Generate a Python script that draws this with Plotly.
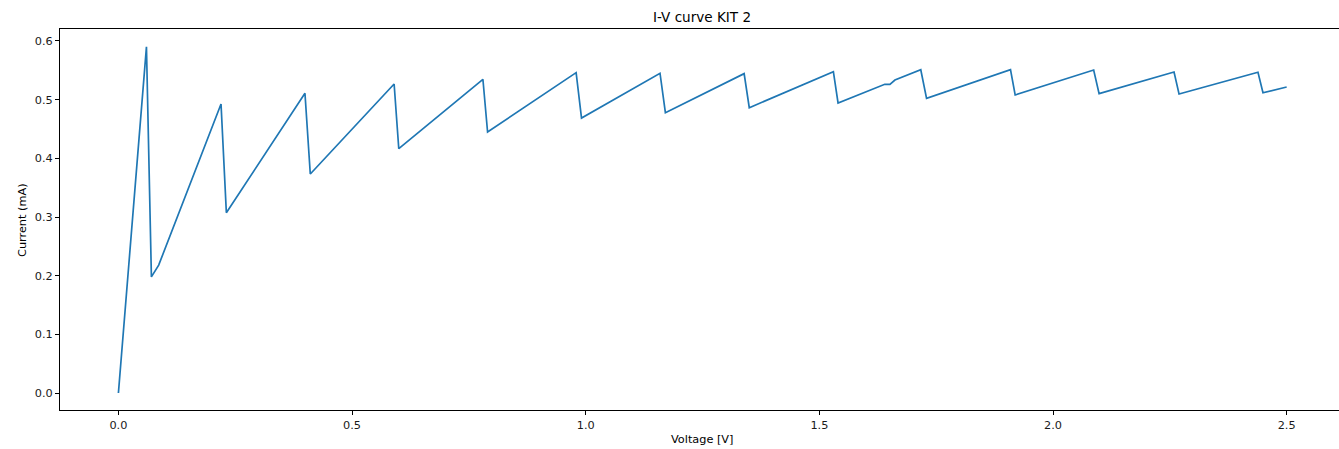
import plotly.graph_objects as go

# Vertices of the I-V curve
voltage = [0.0, 0.060, 0.0706, 0.0862, 0.2196, 0.231, 0.3992, 0.4106, 0.590, 0.600,
           0.780, 0.790, 0.9795, 0.991, 1.159, 1.1705, 1.339, 1.350, 1.530, 1.540,
           1.640, 1.651, 1.6617, 1.717, 1.7294, 1.909, 1.919, 2.087, 2.0986, 2.259,
           2.2697, 2.4386, 2.4493, 2.5]
current = [0.0, 0.590, 0.198, 0.218, 0.4926, 0.3073, 0.5108, 0.3733, 0.5267, 0.4164,
           0.5347, 0.4449, 0.546, 0.4687, 0.545, 0.4778, 0.5443, 0.4863, 0.5477, 0.4943,
           0.5262, 0.5262, 0.5335, 0.551, 0.5023, 0.551, 0.508, 0.5505, 0.5102, 0.5471,
           0.5096, 0.5466, 0.5118, 0.5216]

x_ticks = [0.0, 0.5, 1.0, 1.5, 2.0, 2.5]
x_tick_labels = ["0.0", "0.5", "1.0", "1.5", "2.0", "2.5"]
y_ticks = [0.0, 0.1, 0.2, 0.3, 0.4, 0.5, 0.6]
y_tick_labels = ["0.0", "0.1", "0.2", "0.3", "0.4", "0.5", "0.6"]

title_text = "I-V curve KIT 2"
x_label = "Voltage [V]"
y_label = "Current (mA)"

FONT = "DejaVu Sans"
S = 1.13  # scale of the reference rendering

fig = go.Figure()
fig.add_trace(go.Scatter(x=voltage, y=current, mode="lines",
                         line=dict(color="#1f77b4", width=1.5 * S), showlegend=False))

W, H = 1339, 449
L, T, R, B = 60, 29, 0, 39
axis_common = dict(ticks="outside", ticklen=4, tickwidth=0.9, tickcolor="black",
                   showline=True, linecolor="black", linewidth=0.9,
                   showgrid=False, zeroline=False,
                   tickfont=dict(family=FONT, size=10 * S, color="#1a1a1a"))
fig.update_layout(
    width=W, height=H,
    margin=dict(l=L, r=R, t=T, b=B, pad=0),
    paper_bgcolor="white", plot_bgcolor="white",
    font=dict(family=FONT, size=10 * S, color="black"),
    xaxis=dict(range=[-0.125, 2.612], tickmode="array", tickvals=x_ticks,
               ticktext=x_tick_labels, mirror=True, **axis_common),
    yaxis=dict(range=[-0.0289, 0.6204], tickmode="array", tickvals=y_ticks,
               ticktext=y_tick_labels, **axis_common),
)

pw = W - L - R
ph = H - T - B


def py(pix):
    return (H - B - pix) / ph


def px(pix):
    return (pix - L) / pw


fig.add_annotation(text=title_text, xref="paper", yref="paper",
                   x=px(701.5), y=py(17), xanchor="center", yanchor="middle",
                   showarrow=False, font=dict(family=FONT, size=12 * S, color="black"))
fig.add_annotation(text=x_label, xref="paper", yref="paper",
                   x=px(702.5), y=py(439), xanchor="center", yanchor="middle",
                   showarrow=False, font=dict(family=FONT, size=10 * S, color="black"))
fig.add_annotation(text=y_label, xref="paper", yref="paper",
                   x=px(22.5), y=py(220.5), textangle=-90,
                   xanchor="center", yanchor="middle", showarrow=False,
                   font=dict(family=FONT, size=10 * S, color="black"))

fig.write_html("out.html")
